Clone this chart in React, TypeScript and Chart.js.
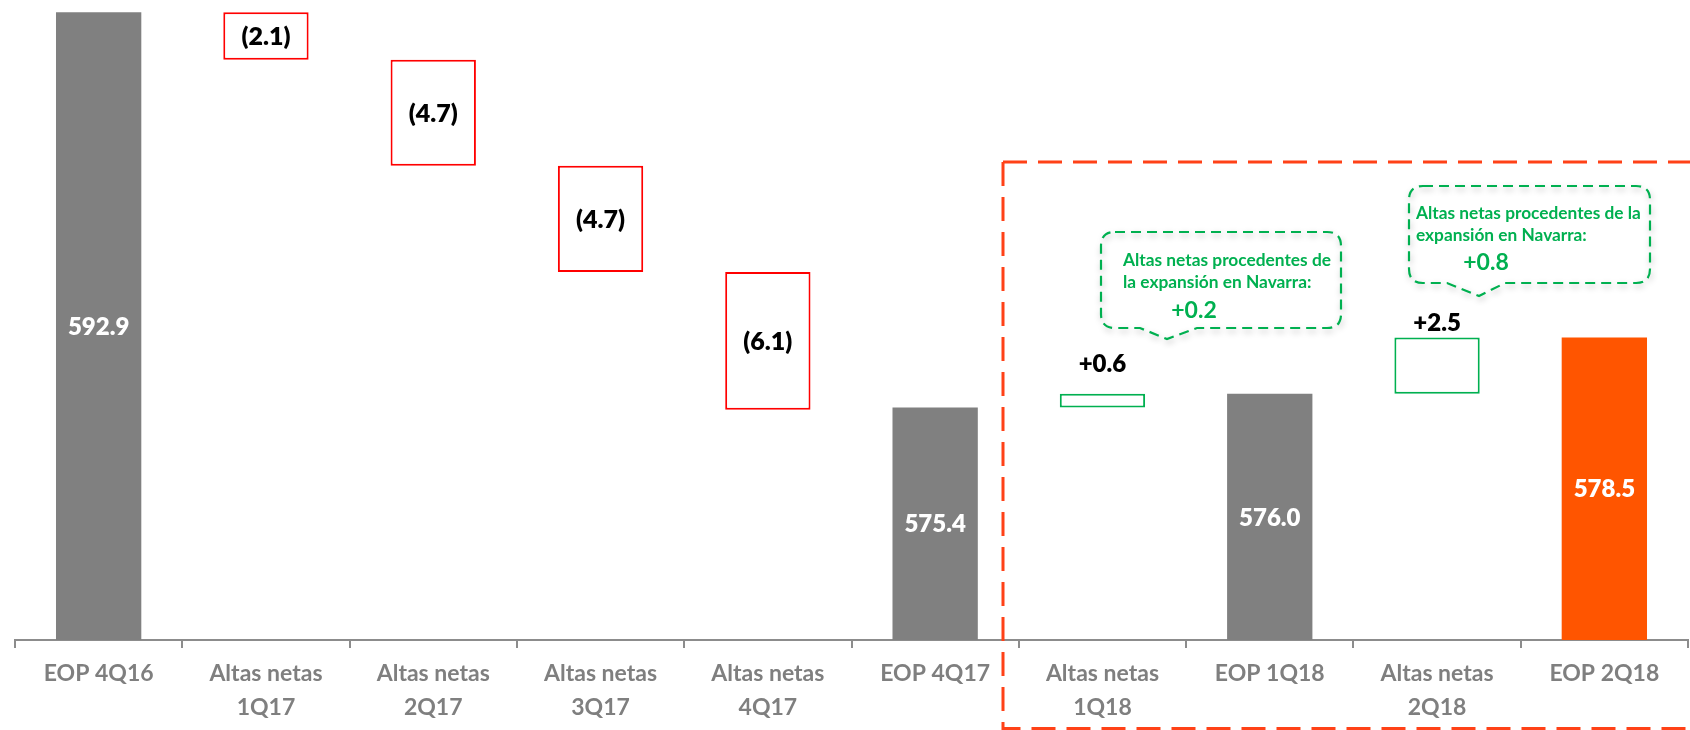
import React, { useEffect, useRef } from 'react';
import { Chart, registerables } from 'chart.js';

Chart.register(...registerables);

// ---------- DATA ----------
const categories: (string | string[])[] = [
  'EOP 4Q16',
  ['Altas netas', '1Q17'],
  ['Altas netas', '2Q17'],
  ['Altas netas', '3Q17'],
  ['Altas netas', '4Q17'],
  'EOP 4Q17',
  ['Altas netas', '1Q18'],
  'EOP 1Q18',
  ['Altas netas', '2Q18'],
  'EOP 2Q18',
];
const values = [592.9, -2.1, -4.7, -4.7, -6.1, 575.4, 0.6, 576.0, 2.5, 578.5];
const kinds = ['total', 'delta', 'delta', 'delta', 'delta', 'total', 'delta', 'total', 'delta', 'total'];
const valueLabels = ['592.9', '(2.1)', '(4.7)', '(4.7)', '(6.1)', '575.4', '+0.6', '576.0', '+2.5', '578.5'];
const yMin = 565.1;
const yMax = 593.0;
const calloutLines1 = ['Altas netas procedentes de', 'la expansión en Navarra:'];
const calloutValue1 = '+0.2';
const calloutLines2 = ['Altas netas procedentes de la', 'expansión en Navarra:'];
const calloutValue2 = '+0.8';

// ---------- STYLE ----------
const GREY = '#808080';
const ORANGE = '#FF5500';
const RED = '#FF0000';
const GREEN = '#00B050';
const DASH_RED = '#FF4117';
const FONT = 'Lato, "Open Sans", sans-serif';

function buildRanges(): [number, number][] {
  const out: [number, number][] = [];
  let run = 0;
  values.forEach((v, i) => {
    if (kinds[i] === 'total') {
      out.push([yMin, v]);
      run = v;
    } else {
      out.push([run, run + v]);
      run = run + v;
    }
  });
  return out;
}

function roundRectPath(ctx: CanvasRenderingContext2D, x0: number, y0: number, x1: number, y1: number, r: number, tail: [number, number, number, number]) {
  const [bl, tx, ty, br] = tail;
  ctx.beginPath();
  ctx.moveTo(x0 + r, y0);
  ctx.lineTo(x1 - r, y0);
  ctx.quadraticCurveTo(x1, y0, x1, y0 + r);
  ctx.lineTo(x1, y1 - r);
  ctx.quadraticCurveTo(x1, y1, x1 - r, y1);
  ctx.lineTo(br, y1);
  ctx.lineTo(tx, ty);
  ctx.lineTo(bl, y1);
  ctx.lineTo(x0 + r, y1);
  ctx.quadraticCurveTo(x0, y1, x0, y1 - r);
  ctx.lineTo(x0, y0 + r);
  ctx.quadraticCurveTo(x0, y0, x0 + r, y0);
  ctx.closePath();
}

function drawCallout(
  ctx: CanvasRenderingContext2D,
  box: [number, number, number, number],
  tail: [number, number, number, number],
  lines: string[],
  textX: number,
  lineYs: number[],
  lineWidth: number,
  value: string,
  valueX: number,
  valueY: number
) {
  const [x0, y0, x1, y1] = box;
  ctx.save();
  ctx.shadowColor = 'rgba(0,0,0,0.28)';
  ctx.shadowBlur = 6;
  ctx.shadowOffsetX = 1;
  ctx.shadowOffsetY = 3;
  ctx.strokeStyle = GREEN;
  ctx.lineWidth = 2.2;
  ctx.setLineDash([10, 6]);
  roundRectPath(ctx, x0, y0, x1, y1, 14, tail);
  ctx.stroke();
  ctx.restore();

  ctx.save();
  ctx.fillStyle = GREEN;
  ctx.textAlign = 'left';
  ctx.textBaseline = 'middle';
  ctx.font = `bold 16px ${FONT}`;
  const w0 = ctx.measureText(lines[0]).width;
  const size = Math.min(19, (16 * lineWidth) / w0);
  ctx.font = `bold ${size.toFixed(2)}px ${FONT}`;
  lines.forEach((l, i) => {
    ctx.fillText(l, textX, lineYs[i]);
  });
  ctx.font = `bold 23px ${FONT}`;
  ctx.textAlign = 'center';
  ctx.fillText(value, valueX, valueY);
  ctx.restore();
}

const labelPlugin = {
  id: 'waterfallLabels',
  afterDatasetsDraw(chart: any) {
    const ctx: CanvasRenderingContext2D = chart.ctx;
    const meta = chart.getDatasetMeta(0);
    ctx.save();
    ctx.textAlign = 'center';
    ctx.textBaseline = 'middle';
    meta.data.forEach((bar: any, i: number) => {
      const { x, y, base } = bar.getProps(['x', 'y', 'base'], true);
      const top = Math.min(y, base);
      const bottom = Math.max(y, base);
      const label = valueLabels[i];
      if (kinds[i] === 'total') {
        ctx.fillStyle = '#FFFFFF';
        ctx.font = `800 24px ${FONT}`;
        ctx.fillText(label, x, (top + bottom) / 2 + 1);
      } else if (values[i] < 0) {
        ctx.fillStyle = '#000000';
        ctx.font = `800 25px ${FONT}`;
        ctx.fillText(label, x, (top + bottom) / 2 + 1);
      } else {
        ctx.fillStyle = '#000000';
        ctx.font = `800 24px ${FONT}`;
        const off = bottom - top < 20 ? 30 : 14;
        ctx.fillText(label, x, top - off);
      }
    });
    ctx.restore();
  },
  afterDraw(chart: any) {
    const ctx: CanvasRenderingContext2D = chart.ctx;
    ctx.save();
    ctx.strokeStyle = DASH_RED;
    ctx.lineWidth = 3;
    ctx.setLineDash([24, 11]);
    ctx.beginPath();
    ctx.moveTo(1003, 162);
    ctx.lineTo(1700, 162);
    ctx.stroke();
    ctx.beginPath();
    ctx.moveTo(1003, 162);
    ctx.lineTo(1003, 728.5);
    ctx.lineTo(1700, 728.5);
    ctx.stroke();
    ctx.restore();

    drawCallout(ctx, [1101, 232, 1341, 328], [1140, 1167, 339, 1197], calloutLines1, 1123, [260, 282], 208, calloutValue1, 1194, 311);
    drawCallout(ctx, [1409, 186, 1650, 283], [1447, 1479, 296, 1505], calloutLines2, 1416, [213, 235], 225, calloutValue2, 1486, 263);
  },
};

export default function App() {
  const ref = useRef<HTMLCanvasElement | null>(null);
  useEffect(() => {
    if (!ref.current) return;
    const ranges = buildRanges();
    const last = values.length - 1;
    const bg = values.map((v, i) => (kinds[i] === 'total' ? (i === last ? ORANGE : GREY) : '#FFFFFF'));
    const bc = values.map((v, i) => (kinds[i] === 'total' ? (i === last ? ORANGE : GREY) : v < 0 ? RED : GREEN));
    const bw = values.map((v, i) => (kinds[i] === 'total' ? 0 : 2));
    const chart = new Chart(ref.current, {
      type: 'bar',
      data: {
        labels: categories,
        datasets: [
          {
            data: ranges as any,
            backgroundColor: bg,
            borderColor: bc,
            borderWidth: bw,
            borderSkipped: false,
            categoryPercentage: 1,
            barPercentage: 0.51,
          },
        ],
      },
      options: {
        responsive: false,
        animation: false,
        layout: { padding: { left: 15, right: 2, top: 10, bottom: 0 } },
        plugins: { legend: { display: false }, tooltip: { enabled: false } },
        scales: {
          y: { display: false, min: yMin, max: yMax },
          x: {
            offset: true,
            afterFit: (scale: any) => {
              scale.height = 90;
            },
            border: { display: true, color: '#8C8C8C', width: 2 },
            grid: {
              offset: true,
              drawOnChartArea: false,
              drawTicks: true,
              tickLength: 8,
              color: '#8C8C8C',
              lineWidth: 2,
            },
            ticks: {
              color: '#7F7F7F',
              padding: 9,
              maxRotation: 0,
              autoSkip: false,
              font: { family: FONT, size: 23, weight: 'bold', lineHeight: 1.48 },
            },
          },
        },
      },
      plugins: [labelPlugin],
    });
    return () => chart.destroy();
  }, []);
  return (
    <div style={{ position: 'fixed', left: 0, top: 0, width: 1690, height: 730, background: '#fff' }}>
      <canvas ref={ref} width={1690} height={730} style={{ width: 1690, height: 730, display: 'block' }} />
    </div>
  );
}
